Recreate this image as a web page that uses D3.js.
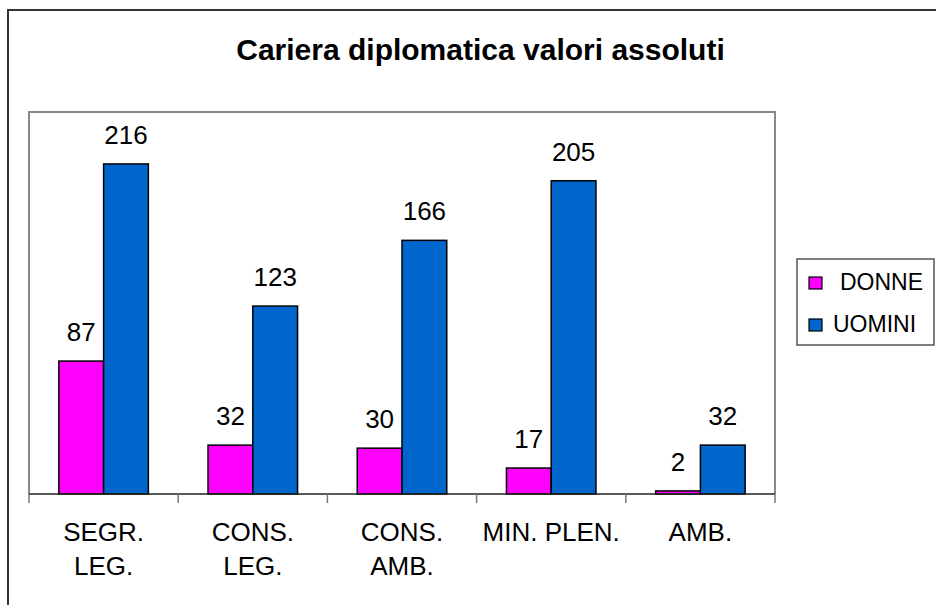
<!DOCTYPE html>
<html>
<head>
<meta charset="utf-8">
<script src="https://cdn.jsdelivr.net/npm/d3@7"></script>
<style>
  body { margin: 0; background: #fff; }
  svg { display: block; font-family: "Liberation Sans", Arial, sans-serif; }
</style>
</head>
<body>
<svg id="chart"></svg>
<script>
// data
const categories = [['SEGR.', 'LEG.'], ['CONS.', 'LEG.'], ['CONS.', 'AMB.'], ['MIN. PLEN.'], ['AMB.']];
const seriesNames = ['DONNE', 'UOMINI'];
const donne = [87, 32, 30, 17, 2];
const uomini = [216, 123, 166, 205, 32];
const colors = ['#FF00FF', '#0066CC'];

const width = 936, height = 605;
const plot = { left: 29, right: 775, top: 112, bottom: 494 };

const svg = d3.select('#chart')
  .attr('width', width)
  .attr('height', height);

// outer frame (runs off the right and bottom edges)
svg.append('rect')
  .attr('x', 8).attr('y', 10)
  .attr('width', 1000).attr('height', 1000)
  .attr('fill', 'none')
  .attr('stroke', '#333')
  .attr('stroke-width', 2);

// title
svg.append('text')
  .attr('x', 480.5)
  .attr('y', 60)
  .attr('text-anchor', 'middle')
  .style('font-size', '30px')
  .style('font-weight', 'bold')
  .text('Cariera diplomatica valori assoluti');

// scales
const x0 = d3.scaleBand()
  .domain(d3.range(categories.length))
  .range([plot.left, plot.right]);

const x1 = d3.scaleBand()
  .domain(seriesNames)
  .range([x0.bandwidth() * 0.2, x0.bandwidth() * 0.8]);

const y = d3.scaleLinear()
  .domain([0, 250])
  .range([plot.bottom, plot.top]);

// plot area border (left, top, right)
svg.append('path')
  .attr('d', `M${plot.left},${plot.bottom} V${plot.top} H${plot.right} V${plot.bottom}`)
  .attr('fill', 'none')
  .attr('stroke', '#888')
  .attr('stroke-width', 2);

// bars
const rows = categories.map((c, i) => ({ i, values: [donne[i], uomini[i]] }));

const groups = svg.selectAll('.group')
  .data(rows)
  .enter()
  .append('g')
  .attr('class', 'group')
  .attr('transform', d => `translate(${x0(d.i)},0)`);

groups.selectAll('rect')
  .data(d => d.values.map((v, k) => ({ key: seriesNames[k], v, k })))
  .enter()
  .append('rect')
  .attr('x', d => x1(d.key))
  .attr('y', d => y(d.v))
  .attr('width', x1.bandwidth())
  .attr('height', d => y(0) - y(d.v))
  .attr('fill', d => colors[d.k])
  .attr('stroke', '#000')
  .attr('stroke-width', 1.5);

// value labels
groups.selectAll('.val')
  .data(d => d.values.map((v, k) => ({ key: seriesNames[k], v })))
  .enter()
  .append('text')
  .attr('class', 'val')
  .attr('x', d => x1(d.key) + x1.bandwidth() / 2)
  .attr('y', d => y(d.v) - 20)
  .attr('text-anchor', 'middle')
  .style('font-size', '26px')
  .text(d => d.v);

// x axis
const xAxis = svg.append('g')
  .attr('transform', `translate(0,${plot.bottom})`);

xAxis.append('line')
  .attr('x1', plot.left).attr('x2', plot.right)
  .attr('stroke', '#222')
  .attr('stroke-width', 1.5);

xAxis.selectAll('.tick')
  .data(d3.range(categories.length + 1))
  .enter()
  .append('line')
  .attr('x1', i => i < categories.length ? x0(i) : plot.right)
  .attr('x2', i => i < categories.length ? x0(i) : plot.right)
  .attr('y1', 0).attr('y2', 9)
  .attr('stroke', '#777')
  .attr('stroke-width', 1.5);

const catLabels = xAxis.selectAll('.cat')
  .data(categories)
  .enter()
  .append('text')
  .attr('class', 'cat')
  .attr('text-anchor', 'middle')
  .style('font-size', '26px');

catLabels.selectAll('tspan')
  .data((d, i) => d.map(line => ({ line, i })))
  .enter()
  .append('tspan')
  .attr('x', d => x0(d.i) + x0.bandwidth() / 2)
  .attr('y', (d, j) => 47 + j * 34)
  .text(d => d.line);

// legend
const legend = svg.append('g')
  .attr('transform', 'translate(797,259)');

legend.append('rect')
  .attr('width', 137).attr('height', 86)
  .attr('fill', '#fff')
  .attr('stroke', '#555')
  .attr('stroke-width', 1.5);

const items = legend.selectAll('.item')
  .data(seriesNames)
  .enter()
  .append('g')
  .attr('class', 'item')
  .attr('transform', (d, i) => `translate(12,${18 + i * 42})`);

items.append('rect')
  .attr('width', 13).attr('height', 12)
  .attr('fill', (d, i) => colors[i])
  .attr('stroke', '#000')
  .attr('stroke-width', 1.2);

items.append('text')
  .attr('x', (d, i) => i === 0 ? 31 : 24)
  .attr('y', 13)
  .style('font-size', '23px')
  .text(d => d);
</script>
</body>
</html>
